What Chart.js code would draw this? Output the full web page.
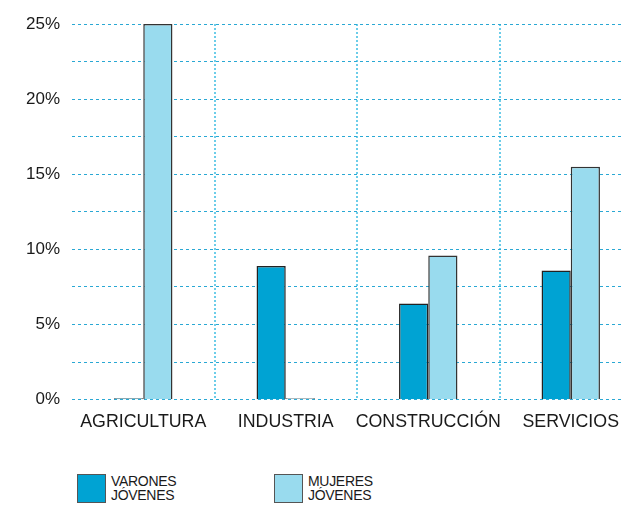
<!DOCTYPE html>
<html>
<head>
<meta charset="utf-8">
<script src="https://cdn.jsdelivr.net/npm/chart.js@4"></script>
<style>
  body { margin: 0; overflow: hidden; background: #fff; font-family: "Liberation Sans", Arial, sans-serif; }
  #wrap { position: relative; width: 624px; height: 505px; overflow: hidden; }
  #chart { position: absolute; left: 0; top: 0; }
  .key { position: absolute; top: 474px; display: flex; align-items: flex-start; }
  .key .box { width: 27px; height: 27px; border: 1.5px solid #555; margin-right: 5px; }
  .key .txt { font-size: 14px; line-height: 14px; color: #1a1a1a; letter-spacing: -0.3px; }
</style>
</head>
<body>
<div id="wrap">
  <canvas id="chart" width="660" height="445"></canvas>
  <div class="key" id="key0" style="left:77px"></div>
  <div class="key" id="key1" style="left:274px"></div>
</div>
<script>
// --- data ---
const categories = ['AGRICULTURA', 'INDUSTRIA', 'CONSTRUCCIÓN', 'SERVICIOS'];
const varones = [0.1, 8.9, 6.4, 8.6];
const mujeres = [25, 0.1, 9.6, 15.5];
const seriesNames = [['VARONES', 'JÓVENES'], ['MUJERES', 'JÓVENES']];
const seriesColors = ['#00a3d3', '#99dbee'];
const yTicks = [0, 5, 10, 15, 20, 25];

const font = { family: '"Liberation Sans", Arial, sans-serif', size: 17 };
const xFont = { family: '"Liberation Sans", Arial, sans-serif', size: 17.8 };

const chart = new Chart(document.getElementById('chart'), {
  type: 'bar',
  data: {
    labels: categories,
    datasets: [
      { label: seriesNames[0].join(' '), data: varones, backgroundColor: seriesColors[0],
        borderColor: '#222', borderWidth: 1.5 },
      { label: seriesNames[1].join(' '), data: mujeres, backgroundColor: seriesColors[1],
        borderColor: '#333', borderWidth: 1.5 }
    ]
  },
  options: {
    responsive: false,
    animation: false,
    layout: { padding: { top: 24, right: 18, left: 0, bottom: 0 } },
    categoryPercentage: 0.41,
    barPercentage: 1,
    plugins: { legend: { display: false }, tooltip: { enabled: false } },
    scales: {
      x: {
        grid: {
          offset: true,
          drawTicks: false,
          color: ctx => ctx.index === 0 ? 'rgba(0,0,0,0)' : '#6ccde9',
          lineWidth: 2
        },
        border: { display: false, dash: [2, 2] },
        ticks: { color: '#1a1a1a', font: xFont, padding: 12, maxRotation: 0, autoSkip: false }
      },
      y: {
        min: 0,
        max: 25,
        afterFit: s => { s.width = 72; },
        grid: { drawTicks: false, color: '#2aa8d4', lineWidth: 1 },
        border: { display: false, dash: [3, 3] },
        ticks: {
          stepSize: 2.5,
          color: '#1a1a1a',
          font: font,
          padding: 12,
          callback: v => yTicks.includes(v) ? v + '%' : ''
        }
      }
    }
  }
});

// legend
chart.data.datasets.forEach((ds, i) => {
  const el = document.getElementById('key' + i);
  el.innerHTML = '<div class="box" style="background:' + ds.backgroundColor + '"></div>' +
    '<div class="txt">' + seriesNames[i].join('<br>') + '</div>';
});
</script>
</body>
</html>
